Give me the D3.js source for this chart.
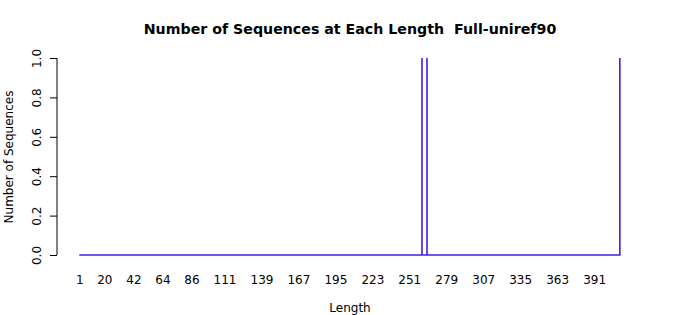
<!DOCTYPE html>
<html lang="en">
<head>
<meta charset="utf-8">
<title>Number of Sequences at Each Length</title>
<style>
    html, body {
        margin: 0;
        background: white;
    }
    svg {
        font-family: 'DejaVu Sans', sans-serif;
    }
</style>
</head>
<body>
<div id="vis"></div>
<script src="https://d3js.org/d3.v7.min.js"></script>
<script>
// sequence lengths (x) and counts (y)
var lengths = [1, 260.6, 260.6, 260.6, 264.4, 264.4, 264.4, 410.5, 410.5];
var counts  = [0, 0, 1, 0, 0, 1, 0, 0, 1];
var xTickLabels = [1, 20, 42, 64, 86, 111, 139, 167, 195, 223, 251, 279, 307, 335, 363, 391];
var yTickLabels = [0, 0.2, 0.4, 0.6, 0.8, 1.0];

var width = 700;
var height = 315;

var svg = d3.select('#vis')
    .append('svg')
    .attr('width', width)
    .attr('height', height);

var points = lengths.map(function(d, i) {
    return { len: d, n: counts[i] };
});

var x_scale = d3.scaleLinear()
    .domain([1, 391])
    .range([79.3, 594.1]);

var y_scale = d3.scaleLinear()
    .domain([0, 1])
    .range([255, 58]);

// y axis
var y_axis = d3.axisLeft(y_scale)
    .tickValues(yTickLabels)
    .tickSize(7)
    .tickFormat(d3.format('.1f'));

var yg = svg.append('g')
    .attr('transform', 'translate(57,0)')
    .call(y_axis);

yg.select('.domain').attr('stroke', '#000').attr('d', 'M0,' + y_scale(0) + 'V' + y_scale(1));
yg.selectAll('.tick line').attr('stroke', '#000');
yg.selectAll('.tick text')
    .attr('font-size', 12)
    .attr('font-family', 'DejaVu Sans')
    .attr('fill', '#000')
    .attr('text-anchor', 'middle')
    .attr('dy', null)
    .attr('x', null)
    .attr('transform', 'translate(-20,0) rotate(-90)')
    .attr('dominant-baseline', 'central');

// x axis: labels only
var x_axis = d3.axisBottom(x_scale)
    .tickValues(xTickLabels)
    .tickSize(0)
    .tickFormat(d3.format('d'));

var xg = svg.append('g')
    .attr('transform', 'translate(0,272)')
    .call(x_axis);

xg.select('.domain').remove();
xg.selectAll('.tick text')
    .attr('font-size', 12)
    .attr('font-family', 'DejaVu Sans')
    .attr('fill', '#000');

// the series
var line = d3.line()
    .x(function(d) { return x_scale(d.len); })
    .y(function(d) { return y_scale(d.n); });

svg.append('path')
    .datum(points)
    .attr('d', line)
    .attr('fill', 'none')
    .attr('stroke', '#3b22dc')
    .attr('stroke-width', 1.6);

// titles
svg.append('text')
    .attr('x', 350)
    .attr('y', 34)
    .attr('text-anchor', 'middle')
    .attr('font-size', 14.2)
    .attr('font-weight', 'bold')
    .style('white-space', 'pre')
    .text('Number of Sequences at Each Length  Full-uniref90');

svg.append('text')
    .attr('x', 350)
    .attr('y', 312)
    .attr('text-anchor', 'middle')
    .attr('font-size', 12)
    .text('Length');

svg.append('text')
    .attr('transform', 'translate(13,157) rotate(-90)')
    .attr('text-anchor', 'middle')
    .attr('font-size', 12)
    .text('Number of Sequences');
</script>
</body>
</html>
